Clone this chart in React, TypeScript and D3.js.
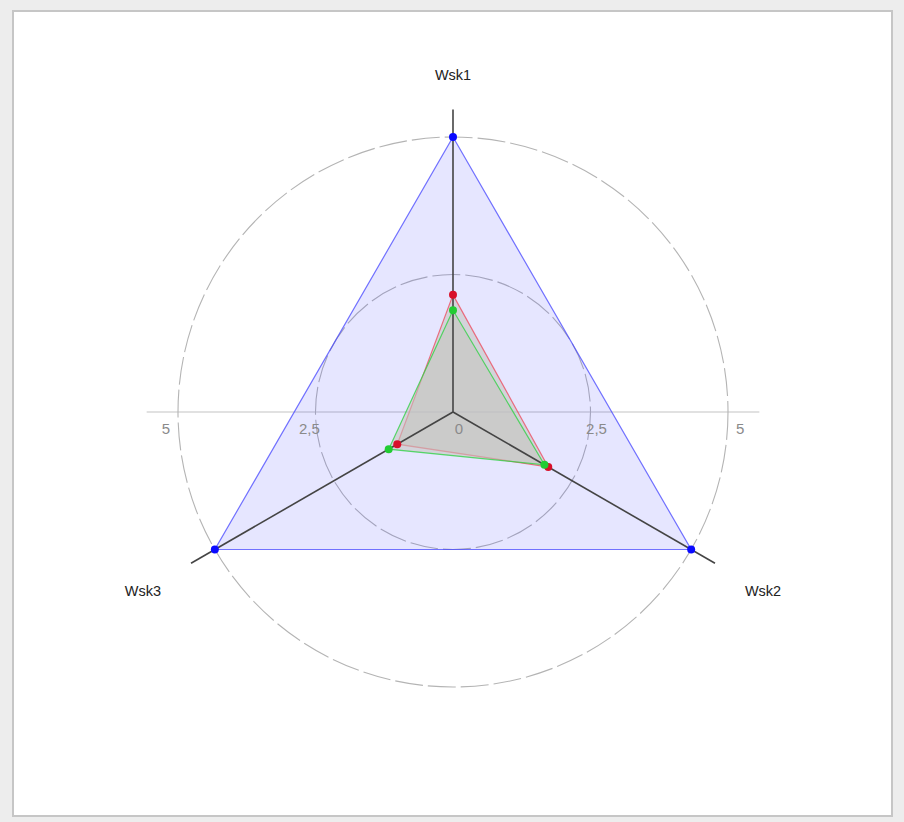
import React from "react";
import * as d3 from "d3";

const axesNames = ["Wsk1", "Wsk2", "Wsk3"];
const seriesNames = ["A", "B", "C"];
const seriesBlue = [5, 5, 5];
const seriesRed = [2.13, 2.0, 1.17];
const seriesGreen = [1.85, 1.92, 1.35];
const gridValues = [2.5, 5];
const tickValues = [-5, -2.5, 0, 2.5, 5];
const tickLabels = ["5", "2,5", "0", "2,5", "5"];

const W = 904, H = 822;
const cx = 453, cy = 412;
const R5 = 275;

export default function App() {
  const r = d3.scaleLinear().domain([0, 5]).range([0, R5]);
  const angle = (i: number) => (-90 + i * 120) * Math.PI / 180;
  const pt = (i: number, v: number): [number, number] => [cx + r(v) * Math.cos(angle(i)), cy + r(v) * Math.sin(angle(i))];
  const line = d3.line<[number, number]>().curve(d3.curveLinearClosed);

  const series = [
    { name: seriesNames[0], vals: seriesBlue, fill: "rgba(60,60,255,0.13)", stroke: "rgba(70,70,255,0.75)", dot: "#0a0aff" },
    { name: seriesNames[1], vals: seriesRed, fill: "rgba(196,196,192,0.58)", stroke: "rgba(240,60,80,0.7)", dot: "#d8102a" },
    { name: seriesNames[2], vals: seriesGreen, fill: "rgba(196,196,192,0.58)", stroke: "rgba(40,210,60,0.75)", dot: "#22cc33" },
  ];

  const labelR = [337, 358, 358];
  const tickX = (v: number) => v === 0 ? cx + 6 : cx + Math.sign(v) * r(Math.abs(v)) * 1.044;

  return (
    <svg width={W} height={H} style={{ position: "absolute", left: 0, top: 0, background: "#ededed", fontFamily: "Liberation Sans, Arial, sans-serif" }}>
      <rect x={13} y={11} width={879} height={805} fill="#ffffff" stroke="#c6c6c6" strokeWidth={2} />
      {/* horizontal reference line */}
      <line x1={cx - r(5.57)} x2={cx + r(5.57)} y1={cy} y2={cy} stroke="#c4c4c4" strokeWidth={1.2} />
      {/* grid circles */}
      {gridValues.map((g) => (
        <circle key={g} cx={cx} cy={cy} r={r(g)} fill="none" stroke="#b4b4b4" strokeWidth={1.1} strokeDasharray="28 5" />
      ))}
      {/* series fills/strokes */}
      {series.map((s) => (
        <path key={s.name} d={line(s.vals.map((v, i) => pt(i, v))) || ""} fill={s.fill} stroke={s.stroke} strokeWidth={1.2} />
      ))}
      {/* axes */}
      {axesNames.map((a, i) => {
        const [x2, y2] = pt(i, 5.5);
        return <line key={a} x1={cx} y1={cy} x2={x2} y2={y2} stroke="#444" strokeWidth={1.6} />;
      })}
      {/* tick labels */}
      {tickValues.map((v, i) => (
        <text key={i} x={tickX(v)} y={cy + 22} textAnchor="middle" fontSize={15} fill="#8a8a8a">{tickLabels[i]}</text>
      ))}
      {/* points */}
      {series.map((s) => s.vals.map((v, i) => {
        const [x, y] = pt(i, v);
        return <circle key={s.name + i} cx={x} cy={y} r={4} fill={s.dot} />;
      }))}
      {/* axis labels */}
      {axesNames.map((a, i) => {
        const a0 = angle(i);
        const x = cx + labelR[i] * Math.cos(a0);
        const y = cy + labelR[i] * Math.sin(a0);
        return <text key={a} x={x} y={y + 5} textAnchor="middle" fontSize={14.5} fill="#222">{a}</text>;
      })}
    </svg>
  );
}
